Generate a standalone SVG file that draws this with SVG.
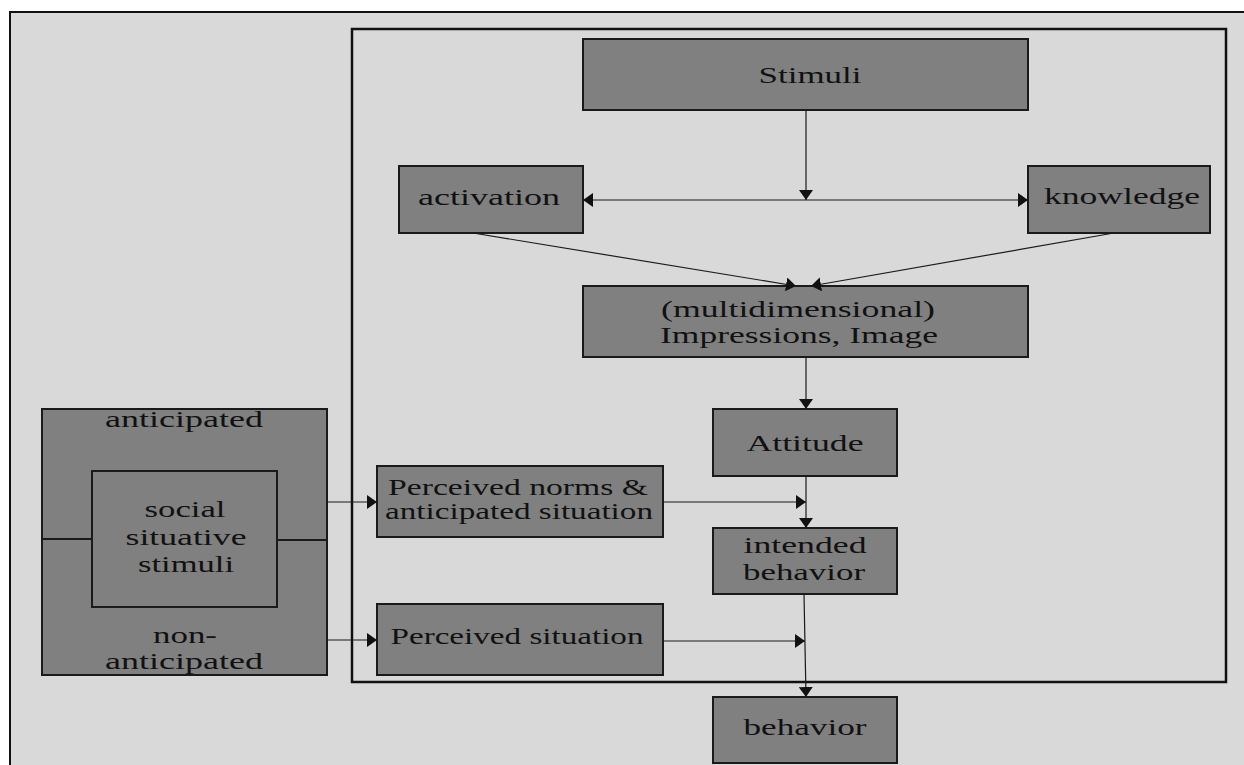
<svg xmlns="http://www.w3.org/2000/svg" width="1244" height="765" viewBox="0 0 1244 765">
<style>
.node{fill:#808080;stroke:#1a1a1a;stroke-width:2}
.t{font-family:"Liberation Serif","Times New Roman",serif;font-size:24px;fill:#111;text-anchor:middle}
.c{stroke:#1a1a1a;stroke-width:1.2;fill:none}
.div{stroke:#1a1a1a;stroke-width:2;fill:none}
</style>
<defs>
<marker id="ah" markerUnits="userSpaceOnUse" markerWidth="12" markerHeight="14" refX="10" refY="7" orient="auto">
<path d="M0,0 L10,7 L0,14 z" fill="#111"/>
</marker>
<marker id="ahs" markerUnits="userSpaceOnUse" markerWidth="12" markerHeight="14" refX="0" refY="7" orient="auto">
<path d="M10,0 L0,7 L10,14 z" fill="#111"/>
</marker>
</defs>
<rect x="0" y="0" width="1244" height="765" fill="#ffffff"/>
<rect id="background" x="10" y="12" width="1250" height="770" fill="#d9d9d9" stroke="#111" stroke-width="2"/>
<rect id="frame" x="352" y="29" width="874" height="653" fill="none" stroke="#111" stroke-width="2.5"/>

<g id="stimuli">
<rect class="node" x="583" y="39" width="445" height="71"/>
<text class="t" x="810" y="83" textLength="103" lengthAdjust="spacingAndGlyphs">Stimuli</text>
</g>
<g id="activation">
<rect class="node" x="399" y="166" width="184" height="67"/>
<text class="t" x="489" y="205" textLength="142" lengthAdjust="spacingAndGlyphs">activation</text>
</g>
<g id="knowledge">
<rect class="node" x="1028" y="166" width="182" height="67"/>
<text class="t" x="1122" y="204" textLength="156" lengthAdjust="spacingAndGlyphs">knowledge</text>
</g>
<g id="impressions">
<rect class="node" x="583" y="286" width="445" height="71"/>
<text class="t" x="798" y="317" textLength="274" lengthAdjust="spacingAndGlyphs">(multidimensional)</text>
<text class="t" x="799" y="343" textLength="278" lengthAdjust="spacingAndGlyphs">Impressions, Image</text>
</g>
<g id="attitude">
<rect class="node" x="713" y="409" width="184" height="67"/>
<text class="t" x="805" y="451" textLength="117" lengthAdjust="spacingAndGlyphs">Attitude</text>
</g>
<g id="intended">
<rect class="node" x="713" y="528" width="184" height="66"/>
<text class="t" x="805" y="553" textLength="123" lengthAdjust="spacingAndGlyphs">intended</text>
<text class="t" x="804" y="580" textLength="122" lengthAdjust="spacingAndGlyphs">behavior</text>
</g>
<g id="behavior">
<rect class="node" x="713" y="697" width="184" height="66"/>
<text class="t" x="805" y="735" textLength="123" lengthAdjust="spacingAndGlyphs">behavior</text>
</g>
<g id="norms">
<rect class="node" x="377" y="466" width="286" height="71"/>
<text class="t" x="518" y="495" textLength="260" lengthAdjust="spacingAndGlyphs">Perceived norms &amp;</text>
<text class="t" x="519" y="519" textLength="268" lengthAdjust="spacingAndGlyphs">anticipated situation</text>
</g>
<g id="perceived-situation">
<rect class="node" x="377" y="604" width="286" height="71"/>
<text class="t" x="517" y="644" textLength="253" lengthAdjust="spacingAndGlyphs">Perceived situation</text>
</g>
<g id="situative">
<rect class="node" x="42" y="409" width="285" height="266"/>
<rect class="node" x="92" y="471" width="185" height="136"/>
<line class="div" x1="42" y1="539" x2="92" y2="539"/>
<line class="div" x1="277" y1="540" x2="327" y2="540"/>
<text class="t" x="184" y="427" textLength="158" lengthAdjust="spacingAndGlyphs">anticipated</text>
<text class="t" x="185" y="517" textLength="81" lengthAdjust="spacingAndGlyphs">social</text>
<text class="t" x="186" y="545" textLength="121" lengthAdjust="spacingAndGlyphs">situative</text>
<text class="t" x="186" y="572" textLength="96" lengthAdjust="spacingAndGlyphs">stimuli</text>
<text class="t" x="185" y="643" textLength="64" lengthAdjust="spacingAndGlyphs">non-</text>
<text class="t" x="184" y="669" textLength="158" lengthAdjust="spacingAndGlyphs">anticipated</text>
</g>

<g id="connectors">
<line class="c" x1="806" y1="110" x2="806" y2="200" marker-end="url(#ah)"/>
<line class="c" x1="583" y1="200" x2="1028" y2="200" marker-start="url(#ahs)" marker-end="url(#ah)"/>
<line class="c" x1="473" y1="233" x2="796" y2="286" marker-end="url(#ah)"/>
<line class="c" x1="1114" y1="233" x2="811" y2="286" marker-end="url(#ah)"/>
<line class="c" x1="806" y1="357" x2="806" y2="409" marker-end="url(#ah)"/>
<line class="c" x1="806" y1="476" x2="806" y2="528" marker-end="url(#ah)"/>
<line class="c" x1="663" y1="502" x2="806" y2="502" marker-end="url(#ah)"/>
<line class="c" x1="327" y1="502" x2="377" y2="502" marker-end="url(#ah)"/>
<line class="c" x1="327" y1="640" x2="377" y2="640" marker-end="url(#ah)"/>
<line class="c" x1="663" y1="641" x2="805" y2="641" marker-end="url(#ah)"/>
<line class="c" x1="804" y1="594" x2="806" y2="697" marker-end="url(#ah)"/>
</g>
</svg>
